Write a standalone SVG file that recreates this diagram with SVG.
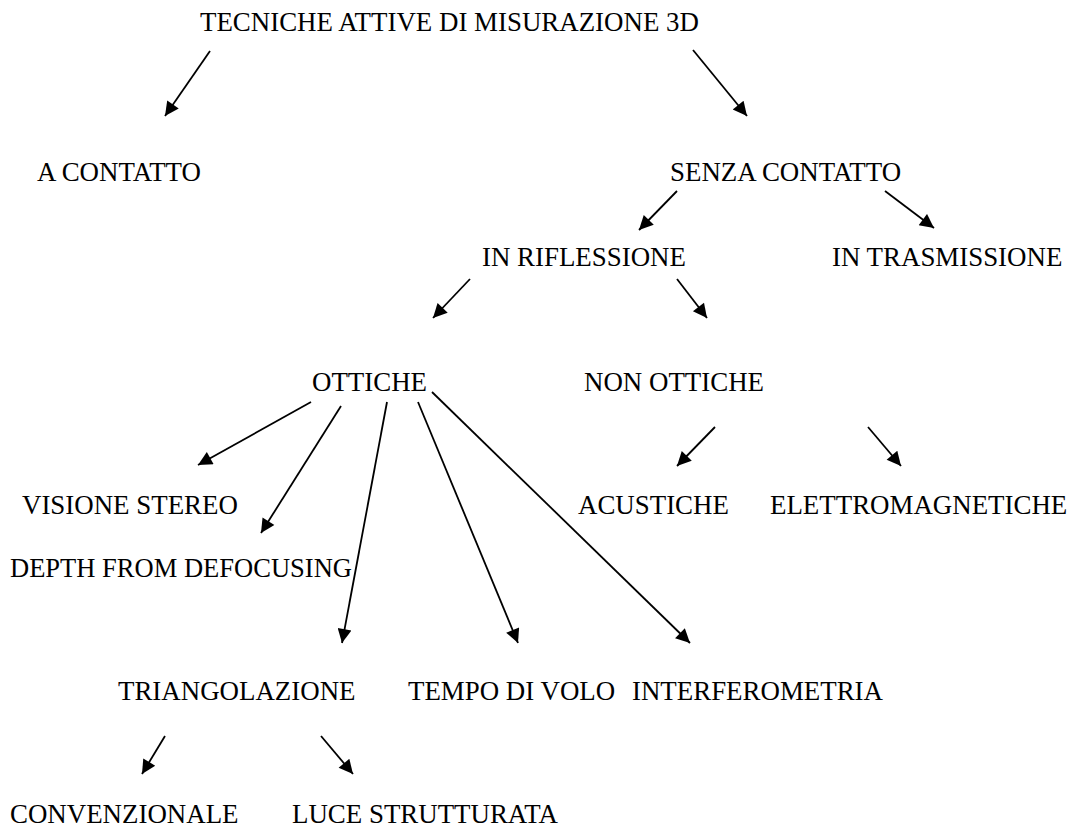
<svg xmlns="http://www.w3.org/2000/svg" width="1072" height="828" viewBox="0 0 1072 828">
<style>
text{font-family:"Liberation Serif","Times New Roman",serif;font-size:26.9px;fill:#000}
.c line{stroke:#000;stroke-width:1.8;marker-end:url(#ah)}
</style>
<defs>
<marker id="ah" viewBox="0 0 10 10" refX="10" refY="5" markerUnits="userSpaceOnUse" markerWidth="17" markerHeight="14" orient="auto">
<path d="M0,0 L10,5 L0,10 z" fill="#000"/>
</marker>
</defs>
<rect width="1072" height="828" fill="#fff"/>
<g id="n-root"><text x="200" y="31">TECNICHE ATTIVE DI MISURAZIONE 3D</text></g>
<g id="n-contatto"><text x="37" y="181">A CONTATTO</text></g>
<g id="n-senza"><text x="670" y="181">SENZA CONTATTO</text></g>
<g id="n-riflessione"><text x="482" y="266">IN RIFLESSIONE</text></g>
<g id="n-trasmissione"><text x="832" y="266">IN TRASMISSIONE</text></g>
<g id="n-ottiche"><text x="312" y="391">OTTICHE</text></g>
<g id="n-nonottiche"><text x="584" y="391">NON OTTICHE</text></g>
<g id="n-stereo"><text x="22" y="514">VISIONE STEREO</text></g>
<g id="n-acustiche"><text x="578" y="514">ACUSTICHE</text></g>
<g id="n-elettro"><text x="770" y="514">ELETTROMAGNETICHE</text></g>
<g id="n-depth"><text x="10" y="577" textLength="342" lengthAdjust="spacingAndGlyphs">DEPTH FROM DEFOCUSING</text></g>
<g id="n-triang"><text x="118" y="700">TRIANGOLAZIONE</text></g>
<g id="n-tempo"><text x="408" y="700">TEMPO DI VOLO</text></g>
<g id="n-interf"><text x="632" y="700">INTERFEROMETRIA</text></g>
<g id="n-conv"><text x="10" y="823">CONVENZIONALE</text></g>
<g id="n-luce"><text x="292" y="823">LUCE STRUTTURATA</text></g>
<g id="connectors" class="c">
<line x1="210" y1="51" x2="165" y2="116"/>
<line x1="693" y1="50" x2="747" y2="116"/>
<line x1="677" y1="191" x2="639" y2="230"/>
<line x1="885" y1="191" x2="934" y2="228"/>
<line x1="470" y1="279" x2="433" y2="318"/>
<line x1="677" y1="279" x2="707" y2="318"/>
<line x1="311" y1="402" x2="198" y2="465"/>
<line x1="341" y1="406" x2="261" y2="533"/>
<line x1="387" y1="402" x2="342" y2="643"/>
<line x1="418" y1="402" x2="518" y2="643"/>
<line x1="432" y1="392" x2="690" y2="643"/>
<line x1="715" y1="427" x2="677" y2="466"/>
<line x1="868" y1="427" x2="901" y2="466"/>
<line x1="165" y1="736" x2="142" y2="774"/>
<line x1="321" y1="736" x2="353" y2="774"/>
</g>
</svg>
